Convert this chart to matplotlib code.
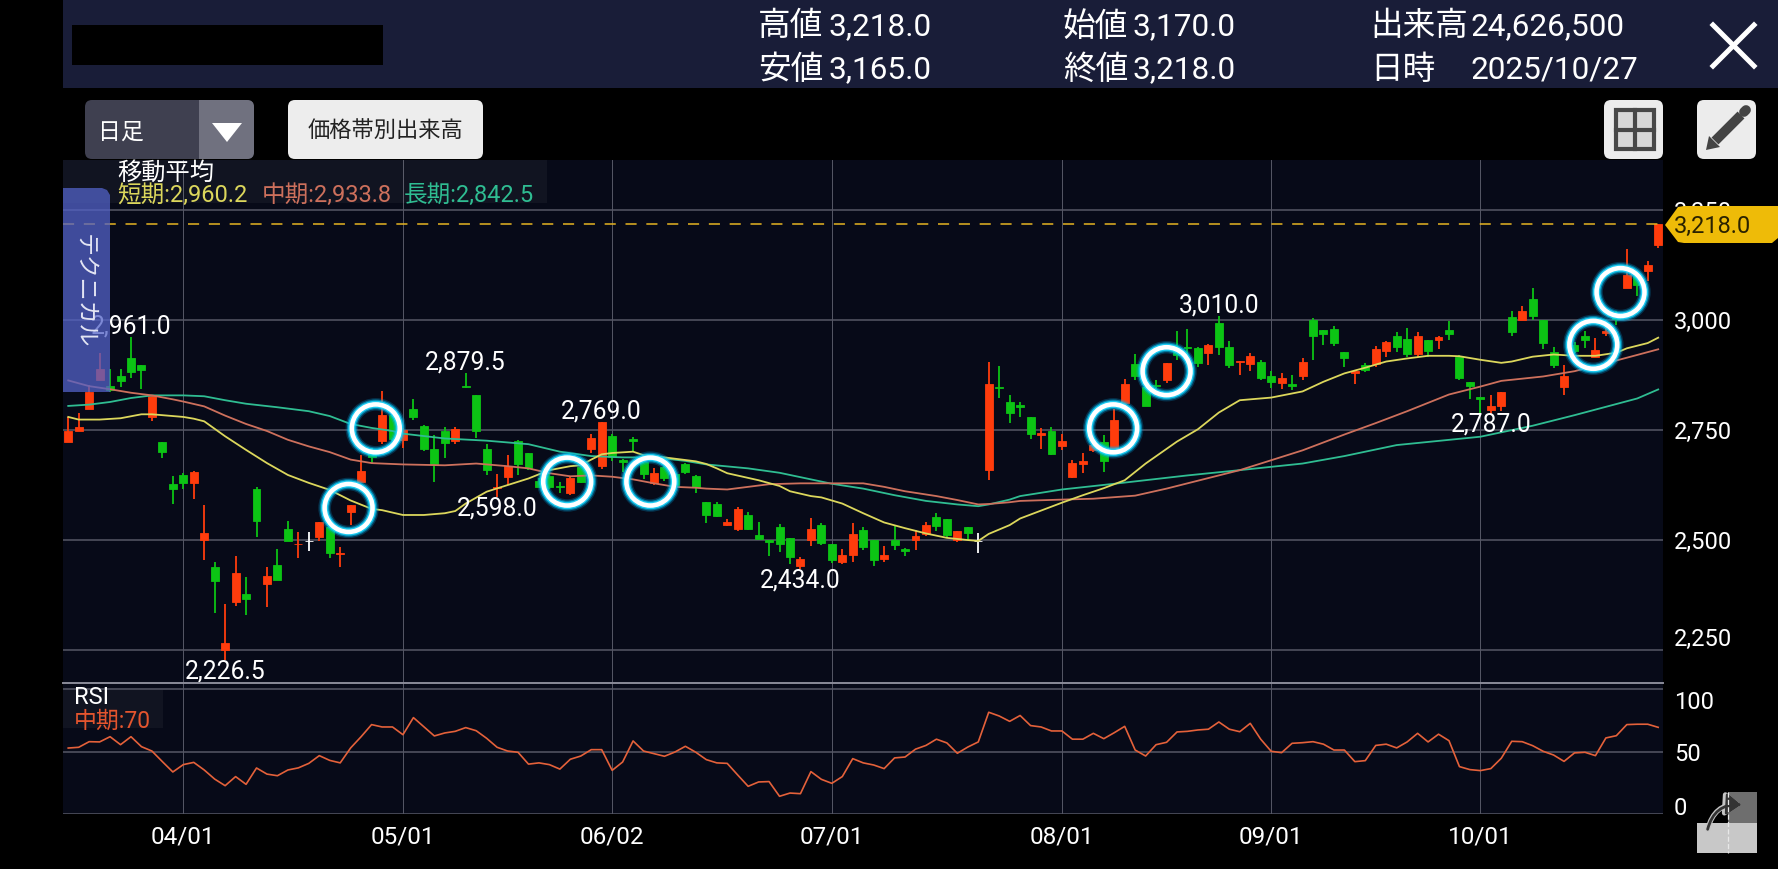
import matplotlib
matplotlib.use('Agg')
import matplotlib.pyplot as plt
from matplotlib.patches import Rectangle, FancyBboxPatch, Polygon, FancyArrowPatch
from matplotlib.transforms import ScaledTranslation

plt.rcParams['font.family'] = ['Roboto', 'Noto Sans CJK JP', 'DejaVu Sans']
plt.rcParams['lines.scale_dashes'] = False

# Daily candles, one row per 10 sessions
opens = [2723, 2749, 2798, 2865, 2850, 2873, 2915, 2897, 2780, 2724,
         2628, 2647, 2629, 2501, 2439, 2249, 2358, 2377, 2615, 2400,
         2443, 2525, 2490, 2498, 2506, 2529, 2468, 2563, 2631, 2702,
         2726, 2785, 2728, 2798, 2760, 2707, 2748, 2726, 2851, 2830,
         2708, 2618, 2644, 2725, 2699, 2634, 2646, 2622, 2608, 2667,
         2707, 2668, 2737, 2683, 2729, 2678, 2629, 2667, 2650, 2673,
         2645, 2586, 2581, 2534, 2526, 2557, 2511, 2500, 2530, 2505,
         2442, 2500, 2535, 2491, 2451, 2467, 2524, 2500, 2456, 2500,
         2480, 2500, 2513, 2552, 2548, 2500, 2529, 2498, 2659, 2849,
         2814, 2808, 2780, 2740, 2748, 2713, 2644, 2672, 2704, 2722,
         2708, 2811, 2900, 2849, 2853, 2864, 2936, 2939, 2936, 2926,
         2993, 2940, 2904, 2900, 2906, 2872, 2858, 2855, 2873, 3000,
         2978, 2980, 2927, 2881, 2897, 2900, 2930, 2965, 2957, 2922,
         2954, 2956, 2977, 2917, 2859, 2826, 2796, 2805, 3008, 3000,
         3049, 3000, 2927, 2849, 2944, 2963, 2917, 2970, 3012, 3074,
         3100, 3111, 3170]
highs = [2780, 2789, 2852, 2926, 2888, 2888, 2961, 2897, 2827, 2724,
         2645, 2652, 2658, 2580, 2449, 2354, 2464, 2417, 2620, 2438,
         2479, 2544, 2519, 2519, 2542, 2540, 2485, 2580, 2694, 2710,
         2840, 2790, 2755, 2820, 2762, 2739, 2756, 2756, 2879.5, 2830,
         2718, 2651, 2693, 2727, 2699, 2640, 2650, 2631, 2643, 2668,
         2741, 2769, 2741, 2684, 2735, 2680, 2664, 2668, 2652, 2675,
         2648, 2586, 2587, 2549, 2576, 2563, 2540, 2500, 2536, 2505,
         2462, 2551, 2538, 2491, 2480, 2539, 2529, 2500, 2486, 2533,
         2481, 2523, 2542, 2562, 2548, 2521, 2529, 2517, 2904, 2895,
         2830, 2814, 2780, 2754, 2756, 2742, 2683, 2699, 2716, 2739,
         2798, 2866, 2922, 2870, 2865, 2902, 2976, 2980, 2938, 2946,
         3010, 2953, 2908, 2925, 2910, 2884, 2881, 2875, 2913, 3005,
         2978, 2987, 2927, 2884, 2902, 2942, 2952, 2973, 2983, 2973,
         2954, 2964, 2998, 2921, 2860, 2826, 2831, 2837, 3021, 3033,
         3073, 3000, 2938, 2897, 2950, 2976, 2959, 2985, 3020, 3162,
         3105, 3134, 3218]
lows = [2723, 2749, 2798, 2865, 2837, 2848, 2869, 2844, 2770, 2687,
        2582, 2616, 2593, 2455, 2335, 2226.5, 2350, 2329, 2506, 2348,
        2409, 2498, 2459, 2474, 2497, 2459, 2439, 2535, 2631, 2672,
        2719, 2725, 2710, 2773, 2702, 2631, 2686, 2718, 2845, 2731,
        2648, 2598, 2625, 2648, 2660, 2620, 2616, 2608, 2602, 2629,
        2697, 2661, 2680, 2655, 2701, 2639, 2625, 2635, 2620, 2651,
        2608, 2539, 2553, 2532, 2521, 2523, 2502, 2464, 2473, 2445,
        2434, 2486, 2489, 2447, 2445, 2449, 2477, 2442, 2451, 2477,
        2464, 2477, 2509, 2521, 2508, 2496, 2500, 2471, 2636, 2822,
        2767, 2779, 2729, 2707, 2693, 2704, 2640, 2653, 2700, 2655,
        2708, 2805, 2864, 2805, 2843, 2858, 2910, 2902, 2894, 2898,
        2921, 2891, 2875, 2885, 2865, 2845, 2843, 2841, 2864, 2910,
        2944, 2942, 2894, 2856, 2883, 2894, 2917, 2927, 2917, 2917,
        2917, 2934, 2955, 2864, 2821, 2790, 2787, 2793, 2963, 3000,
        3001, 2935, 2891, 2830, 2925, 2936, 2917, 2965, 2988, 3074,
        3055, 3090, 3165]
closes = [2747, 2758, 2837, 2890, 2842, 2862, 2882, 2886, 2827, 2701,
          2616, 2629, 2654, 2517, 2407, 2265, 2426, 2365, 2544, 2419,
          2409, 2498, 2492, 2498, 2542, 2470, 2470, 2580, 2656, 2690,
          2785, 2730, 2750, 2779, 2707, 2672, 2720, 2752, 2849, 2748,
          2659, 2620, 2668, 2672, 2663, 2621, 2621, 2620, 2640, 2633,
          2733, 2769, 2689, 2677, 2726, 2650, 2652, 2640, 2625, 2655,
          2620, 2557, 2555, 2540, 2570, 2526, 2502, 2496, 2492, 2462,
          2458, 2526, 2494, 2455, 2467, 2514, 2485, 2455, 2466, 2489,
          2476, 2509, 2534, 2533, 2511, 2521, 2517, 2498, 2854, 2845,
          2788, 2803, 2741, 2743, 2695, 2725, 2675, 2679, 2716, 2679,
          2773, 2855, 2874, 2805, 2851, 2902, 2921, 2937, 2902, 2944,
          2940, 2898, 2907, 2919, 2869, 2859, 2869, 2850, 2906, 2963,
          2969, 2948, 2915, 2884, 2887, 2935, 2950, 2940, 2922, 2964,
          2929, 2962, 2969, 2869, 2850, 2820, 2804, 2837, 2973, 3021,
          3010, 2948, 2897, 2872, 2929, 2956, 2932, 2975, 3002, 3102,
          3080, 3126, 3218]

# Moving averages, read at the sessions in the matching idx lists
short_idx = [0, 1, 3, 5, 7, 8, 11, 12, 13, 15, 17, 19, 21, 23, 25, 27, 29, 30, 32, 34,
             36, 37, 38, 40, 42, 44, 46, 48, 49, 50, 51, 52, 54, 55, 57, 59, 60, 61, 62, 63,
             66, 68, 69, 71, 72, 74, 76, 78, 80, 82, 84, 86, 87, 88, 90, 91, 95, 97, 99, 101,
             103, 106, 108, 110, 112, 115, 118, 120, 122, 124, 126, 128, 130, 132, 133, 135,
             137, 138, 140, 142, 144, 146, 148, 149, 151, 152]
short_ma = [2780, 2774, 2774, 2777, 2786, 2786, 2780, 2776, 2770, 2736, 2705, 2675, 2648, 2630, 2614, 2590, 2571, 2568, 2557, 2557,
            2561, 2566, 2583, 2610, 2625, 2640, 2659, 2668, 2670, 2683, 2695, 2698, 2701, 2693, 2688, 2682, 2679, 2673, 2663, 2652,
            2636, 2623, 2611, 2600, 2597, 2583, 2561, 2540, 2527, 2515, 2505, 2500, 2498, 2514, 2534, 2549, 2585, 2602, 2618, 2636,
            2674, 2724, 2752, 2790, 2818, 2824, 2838, 2860, 2879, 2892, 2906, 2913, 2919, 2919, 2918, 2910,
            2903, 2906, 2917, 2922, 2919, 2919, 2926, 2936, 2948, 2960.2]
mid_idx = [0, 2, 4, 6, 8, 10, 11, 13, 15, 17, 19, 21, 23, 25, 27, 29, 31, 32, 36, 39,
           42, 44, 46, 48, 50, 52, 54, 56, 58, 60, 61, 63, 65, 67, 70, 73, 76, 78, 80, 83,
           85, 87, 88, 90, 91, 95, 98, 102, 105, 112, 118, 122, 125, 128, 132, 135, 137, 141,
           144, 147, 150, 152]
mid_ma = [2863, 2850, 2843, 2835, 2829, 2820, 2815, 2804, 2783, 2764, 2748, 2728, 2713, 2700, 2683, 2675, 2673, 2672, 2670, 2674,
          2668, 2663, 2652, 2645, 2647, 2644, 2638, 2629, 2621, 2619, 2617, 2615, 2621, 2627, 2629, 2629, 2629, 2621, 2611, 2600,
          2591, 2581, 2582, 2586, 2589, 2592, 2594, 2601, 2617, 2659, 2704, 2740, 2766, 2793, 2831, 2849, 2862, 2872,
          2884, 2902, 2921, 2933.8]
long_idx = [0, 2, 4, 6, 8, 11, 13, 15, 17, 20, 23, 25, 27, 29, 31, 32, 36, 40, 44, 47,
            50, 53, 56, 59, 61, 65, 68, 71, 73, 76, 79, 82, 85, 87, 88, 90, 91, 95, 100, 107,
            112, 118, 122, 127, 135, 140, 144, 147, 150, 152]
long_ma = [2805, 2808, 2814, 2823, 2829, 2829, 2827, 2818, 2810, 2802, 2793, 2782, 2764, 2755, 2748, 2742, 2731, 2726, 2718, 2701,
           2691, 2688, 2688, 2680, 2672, 2663, 2653, 2638, 2628, 2617, 2602, 2589, 2581, 2577, 2581, 2592, 2600, 2615, 2628, 2647,
           2659, 2674, 2691, 2716, 2735, 2760, 2784, 2803, 2822, 2842.5]

rsi = [52.9, 53.5, 58, 57.8, 62, 55.6, 62, 54, 50.5, 42,
       33.7, 39.6, 41.4, 35.3, 28, 22.7, 30, 23.8, 36.9, 32,
       30.7, 35.3, 37, 40.6, 46.8, 43, 41, 53, 62, 71.7,
       69.8, 69.8, 63.6, 77.3, 70, 62.6, 65, 66.3, 69.3, 66.8,
       60.7, 53.5, 50.5, 49.5, 40, 41, 39.6, 36, 43.9, 46.5,
       51.6, 51.6, 35, 41.7, 58.6, 50.5, 48.4, 46.3, 49.7, 54.3,
       49.5, 43.6, 41, 40.6, 31.3, 22.2, 25.7, 26, 14.2, 16.8,
       16.3, 34, 27.8, 24.6, 30, 44.4, 41, 39.3, 36.4, 45,
       45.7, 52, 55, 60, 57, 48.7, 53.7, 57.8, 81.6, 78.6,
       74.3, 79, 70.9, 69.8, 66.6, 66.6, 60, 60, 64.7, 60.4,
       65.2, 70.3, 51.3, 46.5, 55.6, 57.5, 65.8, 66.3, 67.4, 68,
       73.8, 68, 66, 72.7, 60, 50.3, 49.2, 56.7, 57.2, 58,
       56, 51.3, 51.3, 42, 42.8, 55, 56, 53, 57.8, 64.7,
       57.8, 64, 58.8, 38, 35.6, 34.8, 36.4, 44.7, 58.3, 58,
       54.8, 50.3, 47.3, 42.2, 49, 49.5, 46.8, 61, 62.8, 71.7,
       72, 72, 69.5]

date_idx = [11, 32, 52, 73, 95, 115, 135]
date_labels = ['04/01', '05/01', '06/02', '07/01', '08/01', '09/01', '10/01']
price_ticks = [3250, 3000, 2750, 2500, 2250]
price_labels = ['3,250', '3,000', '2,750', '2,500', '2,250']
rsi_ticks = [100, 50, 0]
last_price = 3218.0

# high and low callouts: session, price, text, above the candle or not
call_idx = [6, 38, 51, 110, 41, 70, 136, 15]
call_val = [2961.0, 2879.5, 2769.0, 3010.0, 2598.0, 2434.0, 2787.0, 2226.5]
call_text = ['2,961.0', '2,879.5', '2,769.0', '3,010.0', '2,598.0', '2,434.0', '2,787.0', '2,226.5']
call_above = [True, True, True, True, False, False, False, False]

# blue highlight rings
ring_idx = [26.8, 29.4, 47.7, 55.65, 99.9, 105.0, 145.8, 148.4]
ring_val = [2573, 2754, 2633, 2633, 2754, 2884, 2944, 3064]

header_left = [['高値', '3,218.0'], ['安値', '3,165.0']]
header_mid = [['始値', '3,170.0'], ['終値', '3,218.0']]
header_right = [['出来高', '24,626,500'], ['日時', '2025/10/27']]

BG = '#070a18'
GRID = '#565866'
RED = '#ff3c0c'
GREEN = '#0cc414'
YELLOW = '#dcd75c'
SALMON = '#cd705c'
TEAL = '#2fbd92'
W, H = 1778, 869

fig = plt.figure(figsize=(W / 100, H / 100), dpi=100, facecolor='black')


def px_axes(x0, y0, x1, y1, **kw):
    return fig.add_axes([x0 / W, 1 - y1 / H, (x1 - x0) / W, (y1 - y0) / H], **kw)


ax = px_axes(63, 160, 1663, 682.7, facecolor=BG, zorder=1)
ax2 = px_axes(63, 682.7, 1663, 814, facecolor=BG, zorder=1)
top = fig.add_axes([0, 0, 1, 1], zorder=3)
top.set_xlim(0, W)
top.set_ylim(H, 0)
top.axis('off')
top.patch.set_visible(False)

# candles
for i in range(len(opens)):
    o, h, l, c = opens[i], highs[i], lows[i], closes[i]
    if c > o:
        col = RED
    elif c < o:
        col = GREEN
    else:
        col = 'white'
    ax.vlines(i, l, h, color=col, lw=1.3, zorder=3)
    ax.bar(i, abs(c - o), bottom=min(o, c), width=0.76, color=col, edgecolor=col, lw=0.6, zorder=3)

ax.plot(long_idx, long_ma, color=TEAL, lw=1.3, zorder=4)
ax.plot(mid_idx, mid_ma, color=SALMON, lw=1.3, zorder=4)
ax.plot(short_idx, short_ma, color=YELLOW, lw=1.3, zorder=4)
ax.axhline(last_price, color='#e6b422', lw=1.1, dashes=(8, 7), zorder=4)

for i in range(len(call_idx)):
    ax.annotate(call_text[i], (call_idx[i], call_val[i]), xytext=(0, 7.5 if call_above[i] else -8),
                textcoords='offset points', ha='center', va='center', color='white', fontsize=17.7, zorder=5)

# ring glow, widest first, then the white ring
for lw, col, a in [(9, '#00a8e8', 0.25), (7, '#00c4f5', 0.5), (5.2, '#20d8ff', 0.85), (3.3, 'white', 1)]:
    ax.scatter(ring_idx, ring_val, s=1190, facecolors='none', edgecolors=col, linewidths=lw, alpha=a, zorder=6)

ax.set_xlim(-0.5, 152.46)
ax.set_ylim(2175.6, 3364.3)
ax.set_xticks(date_idx)
ax.set_yticks(price_ticks)
ax.set_yticklabels(price_labels)
ax.yaxis.tick_right()
ax.grid(axis='x', color=GRID, lw=0.7, zorder=1)
ax.grid(axis='y', color=GRID, lw=1.1, zorder=1)
ax.set_axisbelow(True)
ax.tick_params(axis='x', length=0, labelbottom=False)
ax.tick_params(axis='y', length=0, pad=8, labelsize=17, labelcolor='white')
for s in ax.spines.values():
    s.set_visible(False)
ylabs = ax.get_yticklabels()
ylabs[-1].set_transform(ylabs[-1].get_transform() + ScaledTranslation(0, 0.13, fig.dpi_scale_trans))

# RSI panel
ax2.plot(range(len(rsi)), rsi, color='#e4613a', lw=1.2, zorder=3)
ax2.set_xlim(-0.5, 152.46)
ax2.set_ylim(0, 105.3)
ax2.set_xticks(date_idx)
ax2.set_xticklabels(date_labels)
ax2.set_yticks(rsi_ticks)
ax2.yaxis.tick_right()
ax2.grid(axis='x', color=GRID, lw=0.7)
ax2.grid(axis='y', color=GRID, lw=1.1)
ax2.set_axisbelow(True)
ax2.tick_params(axis='x', length=0, pad=8, labelsize=17.5, labelcolor='white')
ax2.tick_params(axis='y', length=0, pad=8, labelsize=17, labelcolor='white')
for s in ax2.spines.values():
    s.set_visible(False)
rlabs = ax2.get_yticklabels()
rlabs[0].set_transform(rlabs[0].get_transform() + ScaledTranslation(0, -0.105, fig.dpi_scale_trans))
rlabs[2].set_transform(rlabs[2].get_transform() + ScaledTranslation(0, 0.08, fig.dpi_scale_trans))
top.plot([63, 1663], [683, 683], color='#8a8b98', lw=1.4)


def rbox(x0, y0, x1, y1, col, r=7, **kw):
    top.add_patch(FancyBboxPatch((x0, y0), x1 - x0, y1 - y0, boxstyle='round,pad=0,rounding_size=%g' % r,
                                 facecolor=col, edgecolor='none', **kw))


# header
top.add_patch(Rectangle((63, 0), W - 63, 88, facecolor='#191d38', edgecolor='none'))
top.add_patch(Rectangle((72, 25), 311, 40, facecolor='black', edgecolor='none'))
for x_a, x_b, rows in [(758, 828, header_left), (1063, 1133, header_mid), (1370, 1470, header_right)]:
    for (name, val), y in zip(rows, [26.5, 70]):
        top.text(x_a, y, name, color='white', fontsize=23.5, va='center')
        top.text(x_b, y, val, color='white', fontsize=22.7, va='center')
top.plot([1713, 1754], [25, 66], color='white', lw=3.6)
top.plot([1713, 1754], [66, 25], color='white', lw=3.6)

# buttons
rbox(85, 100, 254, 159, '#3f4050')
rbox(199, 100, 254, 159, '#70717f')
top.add_patch(Rectangle((199, 100), 8, 59, facecolor='#70717f', edgecolor='none'))
top.add_patch(Polygon([(212, 123), (242, 123), (227, 142)], facecolor='white', edgecolor='none'))
top.text(121, 132, '日足', color='white', fontsize=16.5, ha='center', va='center')
rbox(288, 100, 483, 159, '#ededed')
top.text(385, 132, '価格帯別出来高', color='#222222', fontsize=16, ha='center', va='center')

rbox(1604, 100, 1663, 159, '#ececec')
top.add_patch(Rectangle((1616, 110), 38, 39, facecolor='#d8d8d8', edgecolor='#484848', lw=3))
top.plot([1635, 1635], [110, 149], color='#484848', lw=3)
top.plot([1616, 1654], [130, 130], color='#484848', lw=3)
rbox(1697, 100, 1756, 159, '#ececec')
top.plot([1715, 1741], [141, 115], color='#444444', lw=7, solid_capstyle='butt')
top.plot([1744, 1746], [112, 110], color='#444444', lw=7, solid_capstyle='round')
top.add_patch(Polygon([(1706, 150), (1709, 136), (1720, 147)], facecolor='#444444', edgecolor='none'))

# legend bands over the panels
top.add_patch(Rectangle((63, 160), 484, 43, facecolor='white', alpha=0.045, edgecolor='none'))
top.add_patch(Rectangle((63, 690), 100, 38, facecolor='white', alpha=0.045, edgecolor='none'))
top.text(117, 173, '移動平均', color='white', fontsize=17.5, va='center')
top.text(117, 195, '短期:2,960.2', color=YELLOW, fontsize=17, va='center')
top.text(262, 195, '中期:2,933.8', color=SALMON, fontsize=17, va='center')
top.text(404, 195, '長期:2,842.5', color=TEAL, fontsize=17, va='center')
top.text(74, 698, 'RSI', color='white', fontsize=17, va='center')
top.text(74, 721, '中期:70', color='#e4552e', fontsize=16.5, va='center')

# technical tab, see-through so the candles and the first callout show under it
top.add_patch(Polygon([(63, 188), (102, 188), (107, 190), (110, 195), (110, 392), (63, 392)],
                      facecolor='#5262c8', alpha=0.75, edgecolor='none'))
top.text(85, 291, 'テクニカル', color='#e4e6f4', fontsize=16.5, rotation=-90, ha='center', va='center')

# price tag
top.add_patch(Polygon([(1665, 225), (1678, 207), (1684, 206), (1778, 206), (1778, 238), (1772, 243), (1684, 243), (1678, 242)],
                      facecolor='#eebb08', edgecolor='none'))
top.text(1674, 226, '3,218.0', color='#2a2200', fontsize=17, va='center')

# corner icon
top.add_patch(Rectangle((1697, 823), 60, 30, facecolor='#c8c8c8', edgecolor='none'))
top.add_patch(Rectangle((1728, 792), 29, 31, facecolor='#6e6e6e', edgecolor='none'))
top.plot([1728, 1728], [792, 853], color='#e8e8e8', lw=0.9, ls='--')
for col, lw in [('#c4c4c4', 3.6), ('#333333', 2)]:
    top.add_patch(FancyArrowPatch((1707, 832), (1744, 805), connectionstyle='arc3,rad=-0.45',
                                  arrowstyle='-|>,head_length=0.8,head_width=0.6',
                                  color=col, lw=lw, mutation_scale=11))

fig.savefig('out.png', dpi=100, facecolor='black')
